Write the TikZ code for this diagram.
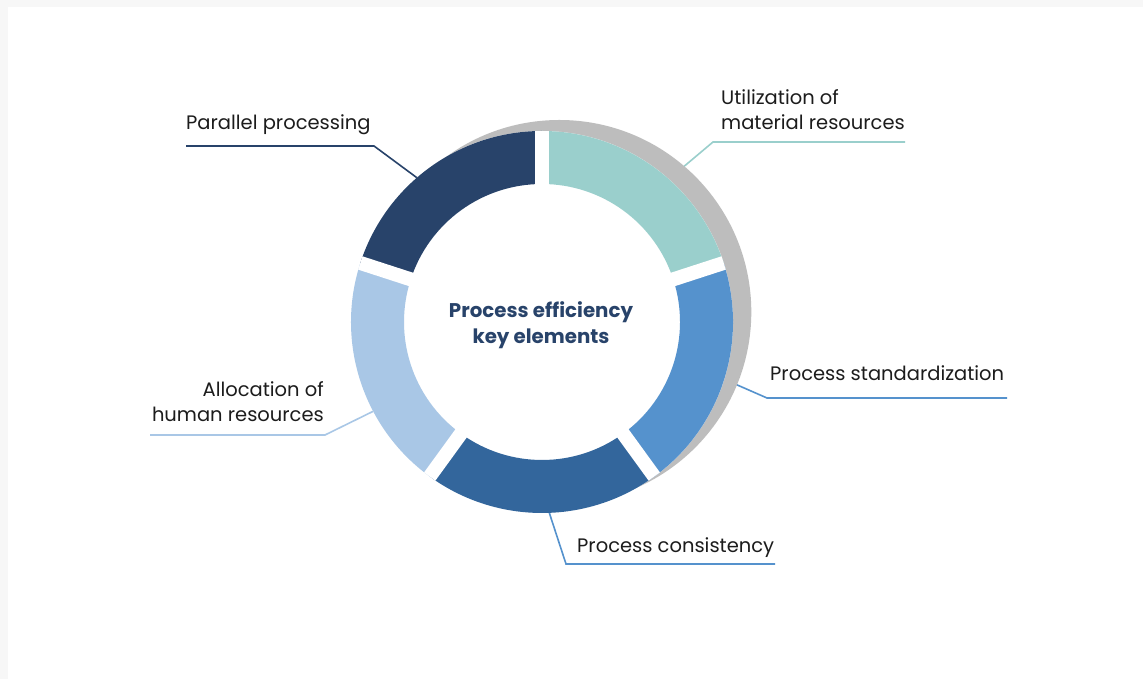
\documentclass[tikz,border=0pt]{standalone}
\usepackage{fontspec}
\setmainfont{Poppins}
\definecolor{segteal}{HTML}{9ACFCC}
\definecolor{segmid}{HTML}{5592CD}
\definecolor{segdeep}{HTML}{33669C}
\definecolor{seglight}{HTML}{A9C7E6}
\definecolor{segnavy}{HTML}{28436A}
\definecolor{shadowgray}{HTML}{BDBDBD}
\definecolor{labeltext}{HTML}{1C1C1C}
\definecolor{pagegray}{HTML}{F7F7F7}

\begin{document}
\begin{tikzpicture}
    [
    x=1pt, y=1pt,
    label/.style={
        font=\fontsize{19.5}{25.5}\selectfont,
        text=labeltext,
        inner sep=0pt
    },
    title/.style={
        font=\fontsize{19.8}{26}\selectfont\bfseries,
        text=segnavy,
        inner sep=0pt,
        align=center
    },
    leader/.style={
        line width=1.6pt
    },
    ]

    % page and card
    \fill[pagegray] (0,0) rectangle (1143,679);
    \fill[white] (8,0) rectangle (1143,672);
    \useasboundingbox (0,0) rectangle (1143,679);

    % labels
    \draw (186,549) node[label, anchor=base west] (par) {Parallel processing};
    \draw (721,549) node[label, anchor=base west, align=left] (util) {Utilization of\\material resources};
    \draw (770,298) node[label, anchor=base west] (std) {Process standardization};
    \draw (577,126) node[label, anchor=base west] (cons) {Process consistency};
    \draw (324,257) node[label, anchor=base east, align=right] (alloc) {Allocation of\\human resources};

    % leader corners
    \coordinate (parleft) at (186,533);
    \coordinate (parknee) at (374,533);
    \coordinate (utilright) at (905,537);
    \coordinate (utilknee) at (713,537);
    \coordinate (stdright) at (1007,281);
    \coordinate (stdknee) at (767,281);
    \coordinate (consright) at (775,115);
    \coordinate (consknee) at (566,115);
    \coordinate (allocleft) at (150,244);
    \coordinate (allocknee) at (325,244);

    \begin{scope}[shift={(542,357)}]
        \coordinate (centre) at (0,0);
        \coordinate (parend) at (130:178);
        \coordinate (utilend) at (49:178);
        \coordinate (stdend) at (-17:178);
        \coordinate (consend) at (-89:178);
        \coordinate (allocend) at (-152:178);
    \end{scope}

    \draw [leader, segnavy] (parleft) -- (parknee) -- (parend);
    \draw [leader, segteal] (utilright) -- (utilknee) -- (utilend);
    \draw [leader, segmid] (stdright) -- (stdknee) -- (stdend);
    \draw [leader, segmid] (consright) -- (consknee) -- (consend);
    \draw [leader, seglight] (allocleft) -- (allocknee) -- (allocend);

    % ring
    \begin{scope}[shift={(542,357)}]
        \fill[shadowgray] (17.3,10) circle[radius=192];
        \fill[white] (0,0) circle[radius=191];
        \foreach \a/\col in {90/segteal, 18/segmid, -54/segdeep, -126/seglight, 162/segnavy} {
            \fill[\col] (\a:191) arc[start angle=\a, delta angle=-72, radius=191]
                -- (\a-72:138) arc[start angle=\a-72, delta angle=72, radius=138] -- cycle;
        }
        \foreach \a in {90, 18, -54, -126, 162}
            \draw[white, line width=14pt] (0,0) -- (\a:191);
    \end{scope}

    \node[title] (key) at (541,354) {Process efficiency\\key elements};

\end{tikzpicture}
\end{document}
